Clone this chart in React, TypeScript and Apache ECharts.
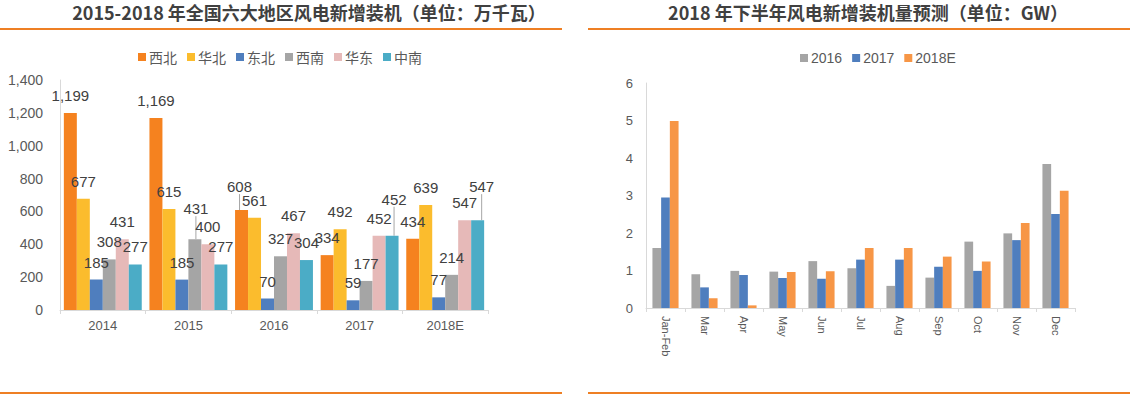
import React, { useEffect, useRef } from "react";
import * as echarts from "echarts";

// ---- Left chart data (万千瓦) ----
const years = ["2014", "2015", "2016", "2017", "2018E"];
const regionNames = ["西北", "华北", "东北", "西南", "华东", "中南"];
const xibei = [1199, 1169, 608, 334, 434];
const huabei = [677, 615, 561, 492, 639];
const dongbei = [185, 185, 70, 59, 77];
const xinan = [308, 431, 327, 177, 214];
const huadong = [431, 400, 467, 452, 547];
const zhongnan = [277, 277, 304, 452, 547];
const leftYTicks = { min: 0, max: 1400, interval: 200 };

// ---- Right chart data (GW) ----
const months = ["Jan-Feb", "Mar", "Apr", "May", "Jun", "Jul", "Aug", "Sep", "Oct", "Nov", "Dec"];
const yearNames = ["2016", "2017", "2018E"];
const s2016 = [1.6, 0.9, 0.99, 0.97, 1.25, 1.06, 0.59, 0.81, 1.77, 1.99, 3.84];
const s2017 = [2.95, 0.55, 0.88, 0.8, 0.78, 1.29, 1.29, 1.1, 0.99, 1.81, 2.51];
const s2018 = [4.99, 0.26, 0.07, 0.96, 0.98, 1.6, 1.6, 1.37, 1.24, 2.27, 3.13];
const rightYTicks = { min: 0, max: 6, interval: 1 };

const leftTitle = "2015-2018 年全国六大地区风电新增装机（单位：万千瓦）";
const rightTitle = "2018 年下半年风电新增装机量预测（单位：GW）";

const leftColors = ["#F5821F", "#FBBC2D", "#4F7EBE", "#A5A5A5", "#E6B9B8", "#4BACC6"];
const rightColors = ["#A5A5A5", "#4F7EBE", "#F79646"];

// label displacements (Excel moved labels with leader lines)
const labelShift: Record<string, [number, number]> = {
  "0-2": [-2, -6],
  "3-1": [1, -13],
  "5-3": [2, -19],
  "5-4": [4, -16],
};

const CJK = '"Noto Sans CJK SC", "Noto Sans", sans-serif';
const SANS = '"Liberation Sans", Arial, sans-serif';
const ORANGE = "#EE7F24";

export default function App() {
  const ref = useRef<HTMLDivElement>(null);
  useEffect(() => {
    if (!ref.current) return;
    const chart = echarts.init(ref.current, undefined, { renderer: "svg" });
    const leftData = [xibei, huabei, dongbei, xinan, huadong, zhongnan];
    const rightData = [s2016, s2017, s2018];

    const leftSeries = regionNames.map((name, si) => ({
      name,
      type: "bar",
      xAxisIndex: 0,
      yAxisIndex: 0,
      data: leftData[si].map((v, di) =>
        labelShift[si + "-" + di]
          ? { value: v, labelLine: { show: true, lineStyle: { color: "#A6A6A6", width: 1 } } }
          : { value: v, labelLine: { show: false } }
      ),
      barGap: "0%",
      barCategoryGap: "9%",
      itemStyle: { color: leftColors[si] },
      label: {
        show: true,
        position: "top",
        distance: 10,
        fontSize: 15,
        fontFamily: SANS,
        color: "#404040",
        formatter: (p: any) => Number(p.value).toLocaleString("en-US"),
      },
      labelLine: { show: false },
      labelLayout: (p: any) => {
        const s = labelShift[si + "-" + p.dataIndex];
        return s ? { dx: s[0], dy: s[1] } : {};
      },
    }));

    const rightSeries = yearNames.map((name, si) => ({
      name,
      type: "bar",
      xAxisIndex: 1,
      yAxisIndex: 1,
      data: rightData[si],
      barGap: "0%",
      barCategoryGap: "33%",
      itemStyle: { color: rightColors[si] },
    }));

    const axisLine = { show: true, lineStyle: { color: "#D9D9D9", width: 1 } };

    chart.setOption({
      animation: false,
      backgroundColor: "#ffffff",
      graphic: [
        {
          type: "text",
          x: 309,
          y: 12,
          style: {
            text: leftTitle,
            align: "center",
            verticalAlign: "middle",
            textAlign: "center",
            textVerticalAlign: "middle",
            fontSize: 18,
            fontWeight: "bold",
            fontFamily: CJK,
            fill: "#404040",
          },
        },
        {
          type: "text",
          x: 868,
          y: 12,
          style: {
            text: rightTitle,
            align: "center",
            verticalAlign: "middle",
            textAlign: "center",
            textVerticalAlign: "middle",
            fontSize: 18,
            fontWeight: "bold",
            fontFamily: CJK,
            fill: "#404040",
          },
        },
        { type: "rect", shape: { x: 0, y: 28, width: 562, height: 2 }, style: { fill: ORANGE } },
        { type: "rect", shape: { x: 588, y: 28, width: 542, height: 2 }, style: { fill: ORANGE } },
        { type: "rect", shape: { x: 0, y: 392, width: 562, height: 2 }, style: { fill: ORANGE } },
        { type: "rect", shape: { x: 588, y: 392, width: 542, height: 2 }, style: { fill: ORANGE } },
      ],
      legend: [
        {
          data: regionNames,
          left: 133,
          top: 45,
          itemWidth: 8,
          itemHeight: 8,
          itemGap: 10,
          icon: "rect",
          textStyle: { fontSize: 14, fontFamily: CJK, color: "#595959", padding: [0, 0, 0, -2] },
        },
        {
          data: yearNames,
          left: 795,
          top: 46,
          itemWidth: 8,
          itemHeight: 8,
          itemGap: 10,
          icon: "rect",
          textStyle: { fontSize: 14, fontFamily: SANS, color: "#595959", padding: [0, 0, 0, -2] },
        },
      ],
      grid: [
        { left: 60, top: 80, width: 428, height: 230 },
        { left: 646, top: 83, width: 429, height: 225 },
      ],
      xAxis: [
        {
          type: "category",
          gridIndex: 0,
          data: years,
          axisLine,
          axisTick: { show: true, length: 4, lineStyle: { color: "#D9D9D9" } },
          axisLabel: { fontSize: 13, fontFamily: SANS, color: "#595959", margin: 9 },
        },
        {
          type: "category",
          gridIndex: 1,
          data: months,
          axisLine,
          axisTick: { show: true, length: 4, lineStyle: { color: "#D9D9D9" } },
          axisLabel: {
            fontSize: 11,
            fontFamily: SANS,
            color: "#595959",
            rotate: -90,
            margin: 8,
            interval: 0,
          },
        },
      ],
      yAxis: [
        {
          type: "value",
          gridIndex: 0,
          ...leftYTicks,
          axisLine,
          axisTick: { show: false },
          splitLine: { show: false },
          axisLabel: {
            fontSize: 14,
            fontFamily: SANS,
            color: "#595959",
            margin: 17,
            formatter: (v: number) => v.toLocaleString("en-US"),
          },
        },
        {
          type: "value",
          gridIndex: 1,
          ...rightYTicks,
          axisLine,
          axisTick: { show: false },
          splitLine: { show: false },
          axisLabel: { fontSize: 13, fontFamily: SANS, color: "#595959", margin: 13 },
        },
      ],
      series: [...leftSeries, ...rightSeries],
    });
    return () => chart.dispose();
  }, []);
  return (
    <div
      ref={ref}
      style={{ position: "fixed", left: 0, top: 0, width: 1130, height: 395, background: "#fff" }}
    />
  );
}
